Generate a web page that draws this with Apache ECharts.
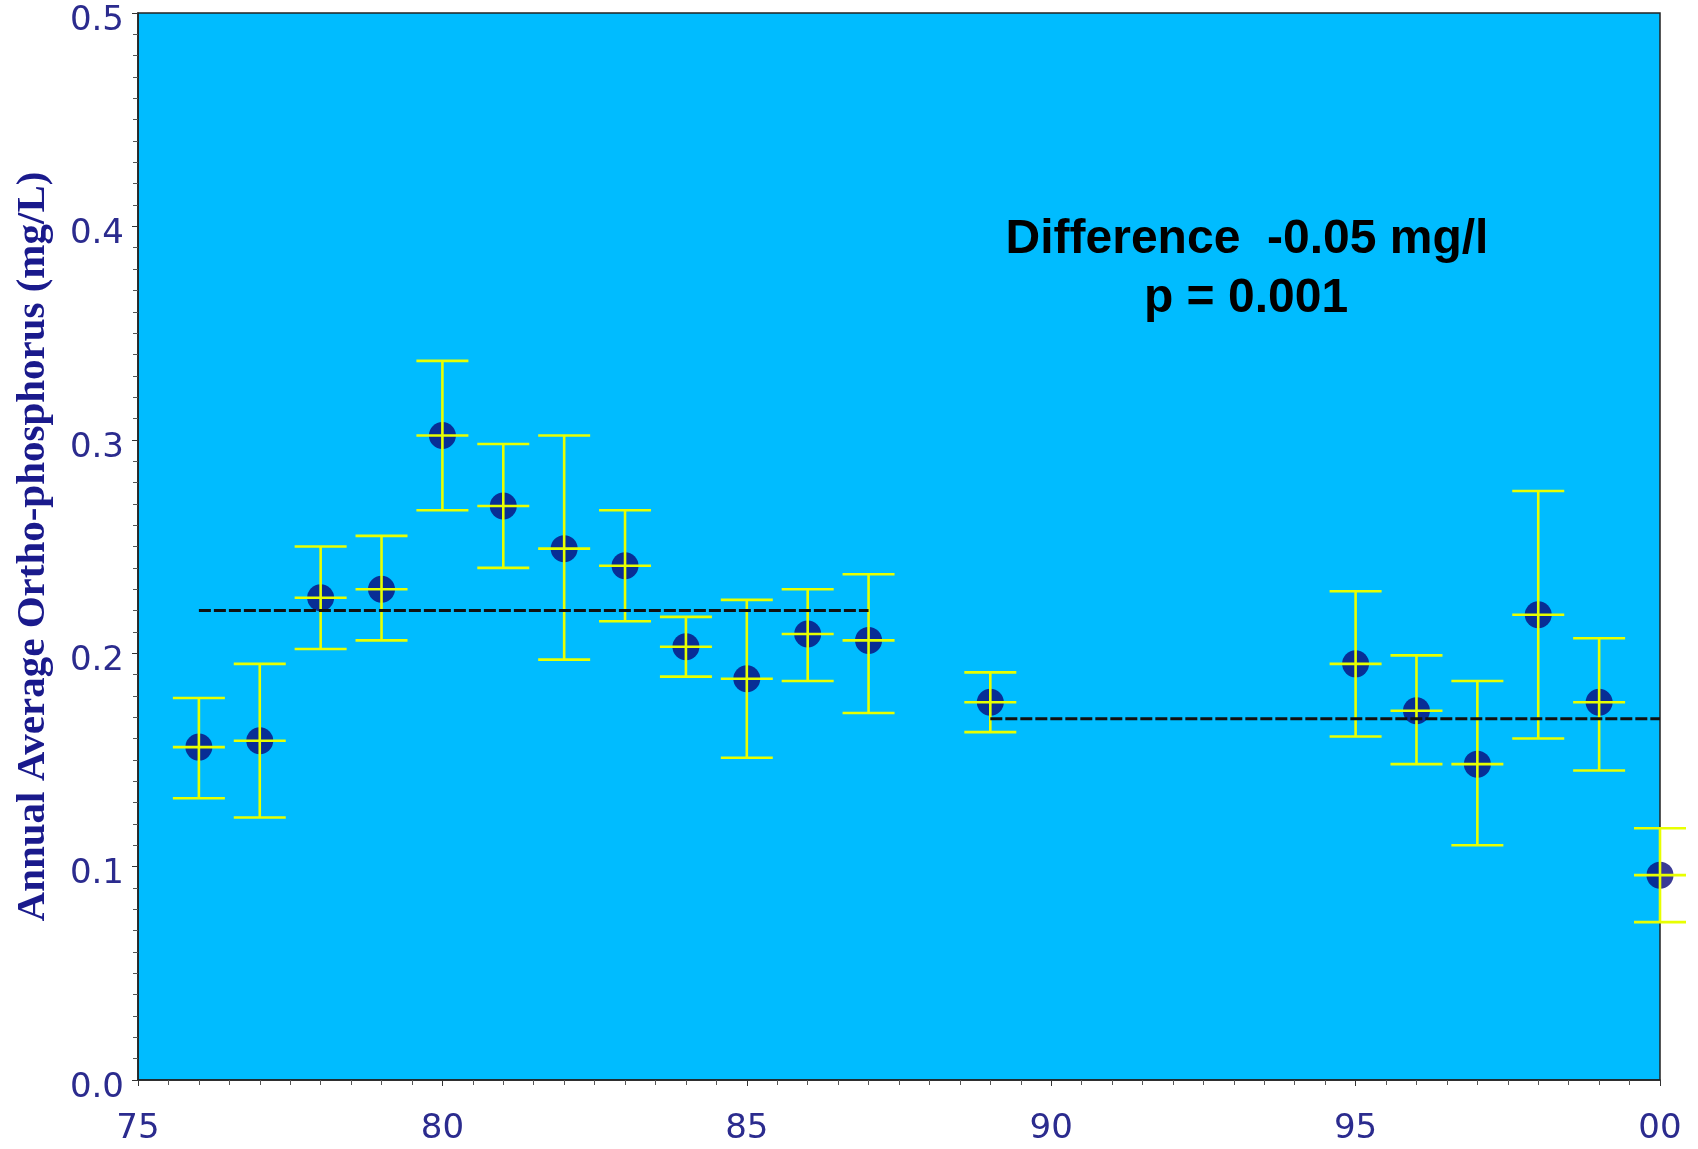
<!DOCTYPE html>
<html>
<head>
<meta charset="utf-8">
<script src="https://cdn.jsdelivr.net/npm/echarts@6/dist/echarts.min.js"></script>
<style>
html,body{margin:0;padding:0;background:#fff;}
#chart{width:1698px;height:1149px;}
</style>
</head>
<body>
<div id="chart"></div>
<script>
// Years (x), annual averages and error-bar limits (mg/L)
const years = [76, 77, 78, 79, 80, 81, 82, 83, 84, 85, 86, 87, 89, 95, 96, 97, 98, 99, 100];
const means = [0.156, 0.159, 0.226, 0.230, 0.302, 0.269, 0.249, 0.241, 0.203, 0.188, 0.209, 0.206, 0.177, 0.195, 0.173, 0.148, 0.218, 0.177, 0.096];
const upper = [0.179, 0.195, 0.250, 0.255, 0.337, 0.298, 0.302, 0.267, 0.217, 0.225, 0.230, 0.237, 0.191, 0.229, 0.199, 0.187, 0.276, 0.207, 0.118];
const lower = [0.132, 0.123, 0.202, 0.206, 0.267, 0.240, 0.197, 0.215, 0.189, 0.151, 0.187, 0.172, 0.163, 0.161, 0.148, 0.110, 0.160, 0.145, 0.074];

// Period means (dashed lines)
const period1 = { start: 76, end: 87, value: 0.220 };
const period2 = { start: 89, end: 100, value: 0.1693 };

// Tick labels
const xTickValues = [75, 80, 85, 90, 95, 100];
const xTickLabels = ['75', '80', '85', '90', '95', '00'];
const yTickValues = [0.0, 0.1, 0.2, 0.3, 0.4, 0.5];
const yTickLabels = ['0.0', '0.1', '0.2', '0.3', '0.4', '0.5'];

const annotation = ['Difference  -0.05 mg/l', 'p = 0.001'];
const yTitle = 'Annual Average Ortho-phosphorus (mg/L)';

const scatterData = years.map((y, i) => [y, means[i]]);
const errData = years.map((y, i) => [y, lower[i], upper[i], means[i]]);

const chart = echarts.init(document.getElementById('chart'));
const labelColor = '#2b2b8e';
const capHalf = 26;
const errColor = '#e8ff00';

chart.setOption({
  animation: false,
  backgroundColor: '#ffffff',
  grid: {
    left: 138, right: 38, top: 13, bottom: 69,
    show: true, backgroundColor: '#00bcff', borderColor: '#222', borderWidth: 1.5
  },
  xAxis: {
    type: 'value', min: 75, max: 100, interval: 5,
    axisLine: { show: true, onZero: false, lineStyle: { color: '#222', width: 1.5 } },
    axisTick: { show: true, inside: false, length: 6, lineStyle: { color: '#333' } },
    minorTick: { show: true, splitNumber: 10, length: 5, lineStyle: { color: '#555' } },
    splitLine: { show: false },
    axisLabel: {
      margin: 32, color: labelColor, fontFamily: 'DejaVu Sans', fontSize: 34,
      formatter: v => { const k = xTickValues.indexOf(Math.round(v)); return k >= 0 ? xTickLabels[k] : ''; }
    }
  },
  yAxis: {
    type: 'value', min: 0, max: 0.5, interval: 0.1,
    name: yTitle, nameLocation: 'middle', nameRotate: 90, nameGap: 84,
    nameTextStyle: { color: '#1a1a8c', fontFamily: 'Liberation Serif', fontWeight: 'bold', fontSize: 41 },
    axisLine: { show: true, onZero: false, lineStyle: { color: '#222', width: 1.5 } },
    axisTick: { show: true, inside: false, length: 6, lineStyle: { color: '#333' } },
    minorTick: { show: true, splitNumber: 10, length: 5, lineStyle: { color: '#555' } },
    splitLine: { show: false },
    axisLabel: {
      margin: 14, color: labelColor, fontFamily: 'DejaVu Sans', fontSize: 34,
      formatter: v => { const k = yTickValues.findIndex(t => Math.abs(t - v) < 1e-9); return k >= 0 ? '{t|' + yTickLabels[k] + '}' : ''; },
      rich: { t: { color: labelColor, fontFamily: 'DejaVu Sans', fontSize: 34, padding: [16, 0, 0, 0] } }
    }
  },
  series: [
    {
      type: 'scatter', data: scatterData, symbol: 'circle', symbolSize: 27,
      itemStyle: { color: '#0a0a7a' }, clip: false, z: 2
    },
    {
      type: 'custom', data: errData, clip: false, z: 3,
      renderItem: function (params, api) {
        const x = api.value(0);
        const pLow = api.coord([x, api.value(1)]);
        const pHigh = api.coord([x, api.value(2)]);
        const pMid = api.coord([x, api.value(3)]);
        const st = { stroke: errColor, lineWidth: 2.6 };
        return {
          type: 'group',
          children: [
            { type: 'line', shape: { x1: pLow[0], y1: pLow[1], x2: pHigh[0], y2: pHigh[1] }, style: st },
            { type: 'line', shape: { x1: pLow[0] - capHalf, y1: pLow[1], x2: pLow[0] + capHalf, y2: pLow[1] }, style: st },
            { type: 'line', shape: { x1: pHigh[0] - capHalf, y1: pHigh[1], x2: pHigh[0] + capHalf, y2: pHigh[1] }, style: st },
            { type: 'line', shape: { x1: pMid[0] - capHalf, y1: pMid[1], x2: pMid[0] + capHalf, y2: pMid[1] }, style: st }
          ]
        };
      }
    },
    {
      type: 'line', data: [[period1.start, period1.value], [period1.end, period1.value]],
      symbol: 'none', z: 4, lineStyle: { color: '#111', width: 3, type: [12, 3] }
    },
    {
      type: 'line', data: [[period2.start, period2.value], [period2.end, period2.value]],
      symbol: 'none', z: 4, lineStyle: { color: '#111', width: 3, type: [12, 3] }
    }
  ],
  graphic: [
    {
      type: 'text', x: 1247, y: 240, z: 10,
      style: { text: annotation[0], textAlign: 'center', verticalAlign: 'middle', fill: '#000',
        font: 'bold 48px "Liberation Sans", Arial, sans-serif' }
    },
    {
      type: 'text', x: 1246, y: 299, z: 10,
      style: { text: annotation[1], textAlign: 'center', verticalAlign: 'middle', fill: '#000',
        font: 'bold 48px "Liberation Sans", Arial, sans-serif' }
    }
  ]
});
</script>
</body>
</html>
